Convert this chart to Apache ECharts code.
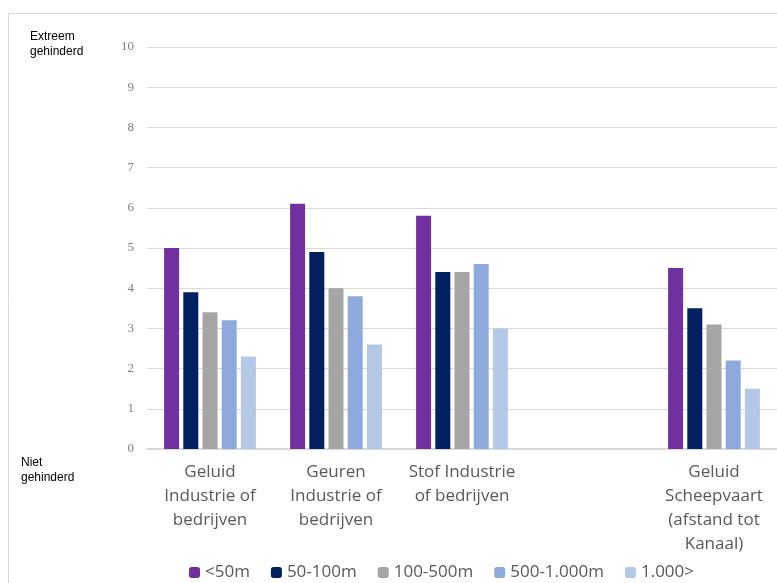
<!DOCTYPE html>
<html>
<head>
<meta charset="utf-8">
<script src="https://cdn.jsdelivr.net/npm/echarts@6/dist/echarts.min.js"></script>
<style>
  html, body { margin: 0; padding: 0; background: #fff; }
  #chart { width: 777px; height: 583px; }
</style>
</head>
<body>
<div id="chart"></div>
<script>
var categories = ['Geluid\nIndustrie of\nbedrijven', 'Geuren\nIndustrie of\nbedrijven', 'Stof Industrie\nof bedrijven', '', 'Geluid\nScheepvaart\n(afstand tot\nKanaal)'];
var seriesNames = ['<50m', '50-100m', '100-500m', '500-1.000m', '1.000>'];
var colors = ['#7030A0', '#002060', '#A5A5A5', '#8EA9DB', '#B4C7E7'];
var under50 = [5.0, 6.1, 5.8, null, 4.5];
var from50to100 = [3.9, 4.9, 4.4, null, 3.5];
var from100to500 = [3.4, 4.0, 4.4, null, 3.1];
var from500to1000 = [3.2, 3.8, 4.6, null, 2.2];
var over1000 = [2.3, 2.6, 3.0, null, 1.5];
var seriesData = [under50, from50to100, from100to500, from500to1000, over1000];

var myChart = echarts.init(document.getElementById('chart'));

var series = seriesNames.map(function (name, i) {
    return {
        name: name,
        type: 'bar',
        data: seriesData[i],
        barWidth: 15,
        barGap: '28%',
        itemStyle: { color: colors[i] }
    };
});

option = {
    animation: false,
    color: colors,
    graphic: [
        {
            type: 'rect',
            shape: { x: 8.5, y: 13.5, width: 800, height: 600 },
            style: { fill: 'none', stroke: '#d9d9d9', lineWidth: 1 }
        },
        {
            type: 'text',
            left: 30, top: 29,
            style: { text: 'Extreem\ngehinderd', font: '12px "Liberation Sans"', fill: '#000', lineHeight: 15 }
        },
        {
            type: 'text',
            left: 21, top: 455,
            style: { text: 'Niet\ngehinderd', font: '12px "Liberation Sans"', fill: '#000', lineHeight: 15 }
        }
    ],
    legend: {
        data: seriesNames,
        left: 184,
        top: 559,
        itemWidth: 11,
        itemHeight: 11,
        itemGap: 21,
        textStyle: { fontFamily: 'Open Sans', fontSize: 17, color: '#595959' }
    },
    grid: { left: 147, right: -8, top: 47, bottom: 134 },
    xAxis: {
        type: 'category',
        data: categories,
        axisLine: { lineStyle: { color: '#d9d9d9', width: 2 } },
        axisTick: { show: false },
        axisLabel: {
            interval: 0,
            margin: 11,
            fontFamily: 'Open Sans',
            fontSize: 17,
            lineHeight: 24,
            color: '#595959'
        }
    },
    yAxis: {
        type: 'value',
        min: 0,
        max: 10,
        interval: 1,
        axisLine: { show: false },
        axisTick: { show: false },
        axisLabel: { margin: 13, fontFamily: 'Liberation Serif', fontSize: 13, color: '#7f7f7f' },
        splitLine: { lineStyle: { color: '#d9d9d9', width: 1 } }
    },
    series: series
};
myChart.setOption(option);

window.addEventListener('resize', function () {
    myChart.resize();
});
</script>
</body>
</html>
